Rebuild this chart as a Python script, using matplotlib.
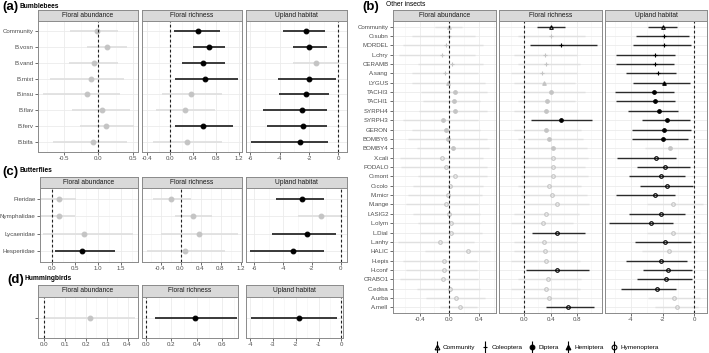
import numpy as np
import matplotlib
matplotlib.use('Agg')
import matplotlib.pyplot as plt
from matplotlib.lines import Line2D
from matplotlib.legend_handler import HandlerTuple
from matplotlib.ticker import FormatStrFormatter, AutoMinorLocator

plt.rcParams['font.family'] = ['Liberation Sans', 'DejaVu Sans']
plt.rcParams['axes.unicode_minus'] = False

# ---- (a) Bumblebees ----
bb_taxa = ['Community', 'B.vosn', 'B.vand', 'B.mixt', 'B.insu', 'B.flav', 'B.ferv', 'B.bifa']
bb_abund_est = [-0.02, 0.12, -0.06, -0.11, -0.17, 0.05, 0.11, -0.08]
bb_abund_lo = [-0.41, -0.17, -0.43, -0.70, -0.80, -0.38, -0.26, -0.65]
bb_abund_hi = [0.29, 0.42, 0.29, 0.37, 0.32, 0.46, 0.51, 0.41]
bb_abund_sig = [0, 0, 0, 0, 0, 0, 0, 0]
bb_rich_est = [0.48, 0.67, 0.57, 0.61, 0.37, 0.25, 0.58, 0.29]
bb_rich_lo = [0.07, 0.39, 0.21, 0.09, -0.15, -0.25, 0.09, -0.30]
bb_rich_hi = [0.86, 0.96, 0.96, 1.18, 0.90, 0.78, 1.10, 0.90]
bb_rich_sig = [1, 1, 1, 1, 0, 0, 1, 0]
bb_upl_est = [-2.21, -1.98, -1.53, -2.00, -2.21, -2.48, -2.44, -2.62]
bb_upl_lo = [-3.75, -3.07, -3.07, -4.09, -4.05, -5.11, -4.88, -5.97]
bb_upl_hi = [-0.92, -0.80, 0.00, -0.17, -0.62, -0.76, -0.80, -0.70]
bb_upl_sig = [1, 1, 0, 1, 1, 1, 1, 1]

# ---- (c) Butterflies ----
bf_taxa = ['Pieridae', 'Nymphalidae', 'Lycaenidae', 'Hesperiidae']
bf_abund_est = [0.16, 0.16, 0.70, 0.67]
bf_abund_lo = [-0.22, -0.22, -0.18, 0.07]
bf_abund_hi = [0.54, 0.51, 1.77, 1.38]
bf_abund_sig = [0, 0, 0, 1]
bf_rich_est = [-0.19, 0.25, 0.37, 0.09]
bf_rich_lo = [-0.55, -0.11, -0.40, -0.68]
bf_rich_hi = [0.20, 0.62, 1.15, 0.89]
bf_rich_sig = [0, 0, 0, 0]
bf_upl_est = [-2.71, -1.39, -2.32, -3.29]
bf_upl_lo = [-4.51, -2.94, -4.79, -6.30]
bf_upl_hi = [-1.16, 0.00, -0.35, -1.16]
bf_upl_sig = [1, 0, 1, 1]

# ---- (d) Hummingbirds ----
hb_taxa = ['']
hb_abund_est, hb_abund_lo, hb_abund_hi, hb_abund_sig = [0.219], [-0.003], [0.435], [0]
hb_rich_est, hb_rich_lo, hb_rich_hi, hb_rich_sig = [0.386], [0.067], [0.725], [1]
hb_upl_est, hb_upl_lo, hb_upl_hi, hb_upl_sig = [-1.87], [-3.98], [-0.19], [1]

# ---- (b) Other insects ----
oi_taxa = ['Community', 'O.subn', 'MORDEL', 'L.chry', 'CERAMB', 'A.sang', 'LYGUS', 'TACHI3',
           'TACHI1', 'SYRPH4', 'SYRPH3', 'GERON', 'BOMBY6', 'BOMBY4', 'X.cali', 'PODALO',
           'O.mont', 'O.colo', 'M.micr', 'M.ange', 'LASIG2', 'L.olym', 'L.Dial', 'L.anhy',
           'HALIC', 'H.epis', 'H.conf', 'CRABO1', 'C.edwa', 'A.urba', 'A.mell']
oi_group = (['Community'] + ['Coleoptera'] * 5 + ['Hemiptera'] + ['Diptera'] * 7
            + ['Hymenoptera'] * 17)
oi_abund_est = [0.00, -0.01, -0.05, -0.10, 0.04, -0.06, -0.02, 0.07, 0.06, 0.07, -0.09,
                -0.05, -0.02, 0.05, -0.10, -0.05, 0.08, 0.01, -0.02, -0.05, 0.00, 0.02,
                0.02, -0.12, 0.25, -0.07, -0.07, -0.08, 0.01, 0.09, 0.14]
oi_abund_lo = [-0.19, -0.51, -0.62, -0.68, -0.42, -0.51, -0.51, -0.38, -0.35, -0.41, -0.62,
               -0.51, -0.56, -0.44, -0.67, -0.65, -0.42, -0.49, -0.56, -0.58, -0.49, -0.42,
               -0.40, -0.69, -0.33, -0.62, -0.58, -0.67, -0.44, -0.31, -0.13]
oi_abund_hi = [0.17, 0.35, 0.46, 0.35, 0.46, 0.39, 0.48, 0.51, 0.42, 0.51, 0.39, 0.42,
               0.51, 0.53, 0.46, 0.51, 0.51, 0.46, 0.44, 0.39, 0.42, 0.42, 0.44, 0.33,
               0.55, 0.37, 0.37, 0.39, 0.42, 0.48, 0.37]
oi_abund_sig = [0] * 31
oi_rich_est = [0.40, 0.41, 0.56, 0.31, 0.32, 0.27, 0.29, 0.41, 0.34, 0.33, 0.55, 0.33,
               0.37, 0.44, 0.43, 0.43, 0.43, 0.37, 0.42, 0.49, 0.33, 0.28, 0.50, 0.29,
               0.31, 0.33, 0.50, 0.36, 0.33, 0.37, 0.66]
oi_rich_lo = [0.19, -0.10, 0.09, -0.15, -0.10, -0.20, -0.15, -0.05, -0.10, -0.15, 0.10,
              -0.15, -0.10, 0.00, -0.05, 0.00, -0.05, -0.10, -0.05, 0.00, -0.15, -0.20,
              0.11, -0.15, -0.15, -0.20, 0.02, -0.10, -0.20, -0.05, 0.32]
oi_rich_hi = [0.61, 0.91, 1.09, 0.79, 0.84, 0.79, 0.76, 0.91, 0.76, 0.81, 1.02, 0.86,
              0.88, 0.94, 0.96, 0.91, 0.96, 0.86, 0.94, 0.98, 0.83, 0.74, 0.91, 0.79,
              0.81, 0.84, 0.98, 0.86, 0.84, 0.81, 1.05]
oi_rich_sig = [1, 0, 1, 0, 0, 0, 0, 0, 0, 0, 1, 0, 0, 0, 0, 0, 0, 0, 0, 0, 0, 0, 1, 0,
               0, 0, 1, 0, 0, 0, 1]
oi_upl_est = [-1.95, -1.88, -1.88, -2.47, -2.47, -2.30, -1.88, -2.51, -2.49, -2.20, -1.74,
              -1.91, -1.99, -1.53, -2.43, -1.84, -2.09, -1.74, -2.47, -1.32, -2.09, -2.74,
              -1.32, -1.84, -1.57, -2.11, -1.67, -1.78, -2.36, -1.28, -1.11]
oi_upl_lo = [-2.89, -3.67, -3.88, -4.92, -4.92, -4.29, -3.84, -4.98, -4.92, -4.15, -3.31,
             -3.94, -3.94, -3.10, -4.84, -3.63, -4.09, -3.42, -4.92, -3.00, -4.09, -5.34,
             -2.96, -3.73, -3.31, -4.29, -3.21, -3.59, -4.63, -2.90, -2.47]
oi_upl_hi = [-1.11, -0.31, -0.23, -1.21, -1.25, -1.12, -0.27, -1.25, -1.21, -1.04, -0.27,
             -0.23, -0.38, -0.07, -1.15, -0.27, -0.58, -0.07, -1.21, 0.53, -0.58, -1.32,
             0.36, -0.23, 0.15, -0.48, -0.17, -0.13, -1.15, 0.36, 0.25]
oi_upl_sig = [1, 1, 1, 1, 1, 1, 1, 1, 1, 1, 1, 1, 1, 0, 1, 1, 1, 1, 1, 0, 1, 1, 0, 1,
              0, 1, 1, 1, 1, 0, 0]

group_marker = {'Community': ('^', False), 'Coleoptera': ('+', True), 'Diptera': ('o', True),
                'Hemiptera': ('^', True), 'Hymenoptera': ('o', False)}

W, H = 709, 353
fig = plt.figure(figsize=(W / 100, H / 100), dpi=100)


def box(l, t, r, b):
    return [l / W, 1 - b / H, (r - l) / W, (b - t) / H]


SIG_PT, SIG_LN = '#000000', '#2b2b2b'
NS_PT, NS_LN = '#c4c4c4', '#e0e0e0'


def facet(l, t, r, b, title, labels, est, lo, hi, sig, xlim, xticks, fmt,
          groups=None, ms=3.4, lw=1.3, show_y=False, strip_h=11):
    sax = fig.add_axes(box(l, t, r, t + strip_h))
    sax.set_facecolor('#d9d9d9')
    sax.set_xticks([]); sax.set_yticks([])
    for s in sax.spines.values():
        s.set_color('#8a8a8a'); s.set_linewidth(0.7)
    sax.text(0.5, 0.5, title, ha='center', va='center', fontsize=4.8, color='#1a1a1a',
             transform=sax.transAxes)

    ax = fig.add_axes(box(l, t + strip_h, r, b))
    n = len(est)
    y = np.arange(n)
    ax.set_ylim(n - 1 + 0.6, -0.6)
    ax.set_xlim(xlim)
    ax.set_xticks(xticks)
    ax.xaxis.set_major_formatter(FormatStrFormatter(fmt))
    ax.xaxis.set_minor_locator(AutoMinorLocator(2))
    ax.set_yticks(y)
    ax.set_yticklabels(labels)
    ax.grid(which='major', color='#ebebeb', lw=0.6)
    ax.grid(which='minor', axis='x', color='#f3f3f3', lw=0.4)
    ax.set_axisbelow(True)
    ax.tick_params(which='both', labelsize=4.4, length=2, width=0.5, color='#333333',
                   labelcolor='#4d4d4d', pad=1.2)
    ax.tick_params(which='minor', length=0)
    if not show_y:
        ax.tick_params(axis='y', left=False, labelleft=False)
    for s in ax.spines.values():
        s.set_color('#8a8a8a'); s.set_linewidth(0.7)
    ax.axvline(0, ls=(0, (2.5, 2)), color='#222222', lw=0.8, zorder=2.5)

    for i in range(n):
        s = sig[i]
        lc, pc, z = (SIG_LN, SIG_PT, 3) if s else (NS_LN, NS_PT, 2)
        ax.hlines(y[i], lo[i], hi[i], color=lc, lw=lw, zorder=z)
        mk, filled = group_marker[groups[i]] if groups else ('o', True)
        ax.plot(est[i], y[i], ls='', marker=mk, ms=ms, color=pc,
                mfc=pc if filled else 'none', mec=pc, mew=0.8, zorder=z + 0.1)
    return ax


# (a) Bumblebees
fig.text(2 / W, 1 - 7 / H, '(a)', fontsize=9.5, fontweight='bold', va='center')
fig.text(20 / W, 1 - 6 / H, 'Bumblebees', fontsize=4.8, fontweight='bold', va='center')
facet(38, 10, 138, 152, 'Floral abundance', bb_taxa, bb_abund_est, bb_abund_lo, bb_abund_hi,
      bb_abund_sig, (-0.874, 0.575), [-0.5, 0.0, 0.5], '%.1f', show_y=True)
facet(142, 10, 242, 152, 'Floral richness', bb_taxa, bb_rich_est, bb_rich_lo, bb_rich_hi,
      bb_rich_sig, (-0.49, 1.25), [-0.4, 0.0, 0.4, 0.8, 1.2], '%.1f')
facet(246, 10, 347, 152, 'Upland habitat', bb_taxa, bb_upl_est, bb_upl_lo, bb_upl_hi,
      bb_upl_sig, (-6.29, 0.58), [-6, -4, -2, 0], '%d')

# (c) Butterflies
fig.text(2 / W, 1 - 172 / H, '(c)', fontsize=9.5, fontweight='bold', va='center')
fig.text(20 / W, 1 - 171 / H, 'Butterflies', fontsize=4.8, fontweight='bold', va='center')
facet(40, 177, 138, 262, 'Floral abundance', bf_taxa, bf_abund_est, bf_abund_lo, bf_abund_hi,
      bf_abund_sig, (-0.25, 1.88), [0.0, 0.5, 1.0, 1.5], '%.1f', show_y=True)
facet(142, 177, 242, 262, 'Floral richness', bf_taxa, bf_rich_est, bf_rich_lo, bf_rich_hi,
      bf_rich_sig, (-0.77, 1.23), [-0.4, 0.0, 0.4, 0.8, 1.2], '%.1f')
facet(246, 177, 347, 262, 'Upland habitat', bf_taxa, bf_upl_est, bf_upl_lo, bf_upl_hi,
      bf_upl_sig, (-6.58, 0.44), [-6, -4, -2, 0], '%d')

# (d) Hummingbirds
fig.text(7 / W, 1 - 280 / H, '(d)', fontsize=9.5, fontweight='bold', va='center')
fig.text(24 / W, 1 - 278 / H, 'Hummingbirds', fontsize=4.8, fontweight='bold', va='center')
facet(38, 285, 138, 338, 'Floral abundance', hb_taxa, hb_abund_est, hb_abund_lo, hb_abund_hi,
      hb_abund_sig, (-0.027, 0.45), [0.0, 0.1, 0.2, 0.3, 0.4], '%.1f', show_y=True, strip_h=12)
facet(142, 285, 238, 338, 'Floral richness', hb_taxa, hb_rich_est, hb_rich_lo, hb_rich_hi,
      hb_rich_sig, (-0.035, 0.73), [0.0, 0.2, 0.4, 0.6], '%.1f', strip_h=12)
facet(246, 285, 343, 338, 'Upland habitat', hb_taxa, hb_upl_est, hb_upl_lo, hb_upl_hi,
      hb_upl_sig, (-4.18, 0.07), [-4, -3, -2, -1, 0], '%d', strip_h=12)

# (b) Other insects
fig.text(362 / W, 1 - 7 / H, '(b)', fontsize=9.5, fontweight='bold', va='center')
fig.text(386 / W, 1 - 5 / H, 'Other insects', fontsize=4.8, va='center')
facet(393, 10, 496, 313, 'Floral abundance', oi_taxa, oi_abund_est, oi_abund_lo, oi_abund_hi,
      oi_abund_sig, (-0.76, 0.63), [-0.4, 0.0, 0.4], '%.1f', groups=oi_group, ms=2.6,
      lw=1.0, show_y=True)
facet(499, 10, 602, 313, 'Floral richness', oi_taxa, oi_rich_est, oi_rich_lo, oi_rich_hi,
      oi_rich_sig, (-0.38, 1.17), [0.0, 0.4, 0.8], '%.1f', groups=oi_group, ms=2.6, lw=1.0)
facet(605, 10, 707, 313, 'Upland habitat', oi_taxa, oi_upl_est, oi_upl_lo, oi_upl_hi,
      oi_upl_sig, (-5.62, 0.80), [-4, -2, 0], '%d', groups=oi_group, ms=2.6, lw=1.0)

# legend
legend_names = ['Community', 'Coleoptera', 'Diptera', 'Hemiptera', 'Hymenoptera']
handles = []
for name in legend_names:
    mk, filled = group_marker[name]
    handles.append((Line2D([], [], ls='', marker='|', ms=8, mew=0.8, color='black'),
                    Line2D([], [], ls='', marker=mk, ms=3.4, color='black',
                           mfc='black' if filled else 'none', mew=0.8)))
fig.legend(handles, legend_names, handler_map={tuple: HandlerTuple(ndivide=1)},
           loc='center', bbox_to_anchor=(546 / W, 1 - 347 / H), ncol=5, frameon=False,
           fontsize=4.6, handlelength=1.0, handletextpad=0.5, columnspacing=1.0)

fig.savefig('out.png', dpi=100)
